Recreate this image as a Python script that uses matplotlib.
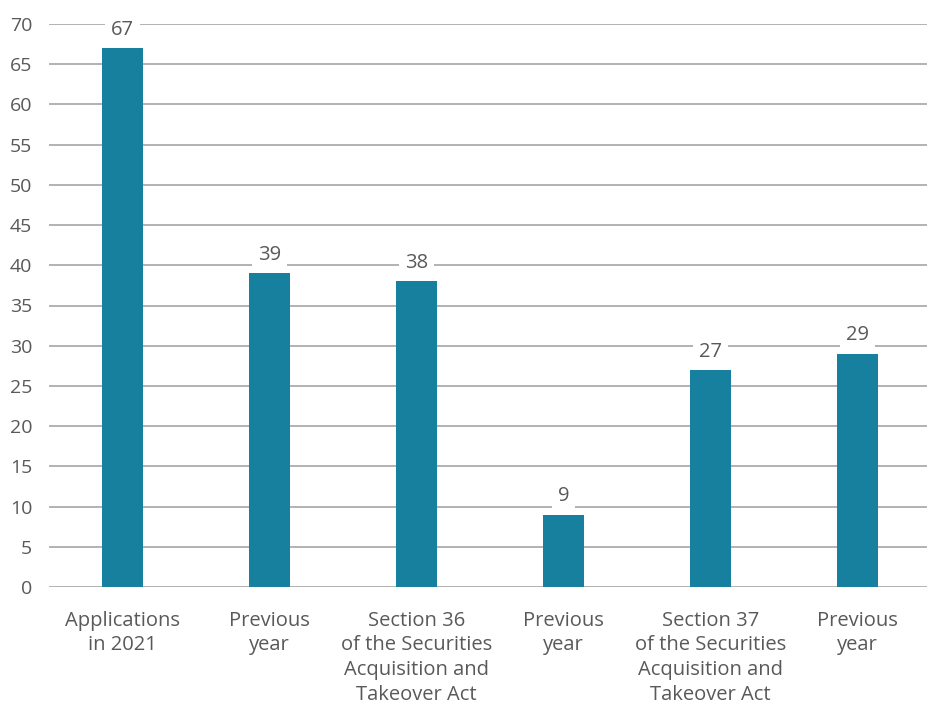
import matplotlib.pyplot as plt

# Applications per category
categories = [
    "Applications\nin 2021",
    "Previous\nyear",
    "Section 36\nof the Securities\nAcquisition and\nTakeover Act",
    "Previous\nyear",
    "Section 37\nof the Securities\nAcquisition and\nTakeover Act",
    "Previous\nyear",
]
values = [67, 39, 38, 9, 27, 29]
y_ticks = list(range(0, 75, 5))

bar_color = "#18809f"
text_color = "#595959"
grid_color = "#a6a6a6"

plt.rcParams["font.family"] = ["Open Sans", "DejaVu Sans"]

fig = plt.figure(figsize=(9.27, 7.04), dpi=100)
ax = fig.add_axes([49 / 927, 117 / 704, 882 / 927, 563 / 704])

x = list(range(len(categories)))
bars = ax.bar(x, values, width=0.28, color=bar_color, zorder=3)

ax.set_xlim(-0.5, len(categories) - 0.5)
ax.set_ylim(0, 70)
ax.set_yticks(y_ticks)
ax.set_xticks(x)
ax.set_xticklabels(categories, fontsize=14.5, color=text_color, linespacing=1.32)
ax.tick_params(axis="y", labelsize=14, colors=text_color, length=0, pad=12)
ax.tick_params(axis="x", length=0, pad=17)

ax.yaxis.grid(True, color=grid_color, linewidth=1.2, zorder=0)
ax.set_axisbelow(True)
for side in ["top", "right", "left", "bottom"]:
    ax.spines[side].set_visible(False)

# value labels sit on a white patch that hides the gridline behind them
for rect, v in zip(bars, values):
    ax.annotate(str(v), (rect.get_x() + rect.get_width() / 2, v),
                xytext=(0, 6), textcoords="offset points",
                ha="center", va="bottom", fontsize=14.5, color=text_color,
                bbox=dict(boxstyle="square,pad=0.3", fc="white", ec="none"),
                zorder=4)

fig.savefig("out.png", dpi=100)
